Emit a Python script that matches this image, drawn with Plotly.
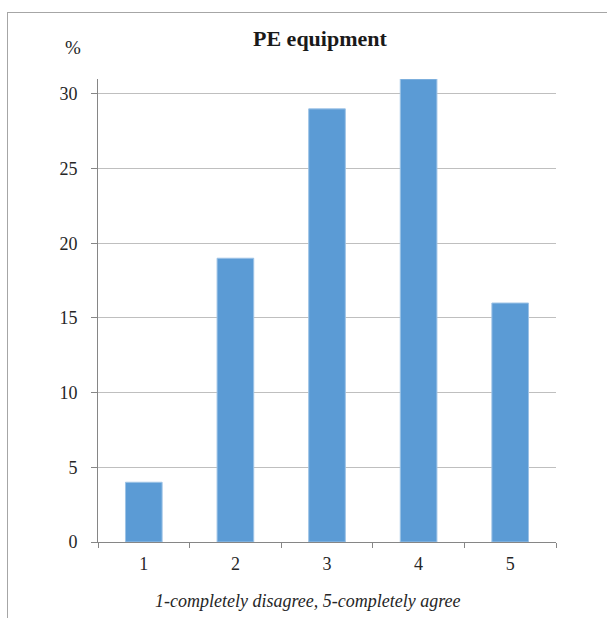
import plotly.graph_objects as go

# Survey answers on the 1-5 agreement scale
categories = ["1", "2", "3", "4", "5"]
percent = [4, 19, 29, 31, 16]
y_ticks = [0, 5, 10, 15, 20, 25, 30]

W, H = 607, 618
L, R, T, B = 98, 51, 79, 76
pw, ph = W - L - R, H - T - B

def px_x(x):
    return (x - L) / pw

def px_y(y):
    return (H - B - y) / ph

serif = "Liberation Serif, Times New Roman, serif"
tick_font = dict(family=serif, size=18, color="#262626")

fig = go.Figure(
    go.Bar(
        x=categories,
        y=percent,
        width=0.4,
        marker=dict(color="#5B9BD5", line=dict(color="#9DC3E6", width=1)),
    )
)

fig.update_layout(
    width=W,
    height=H,
    margin=dict(l=L, r=R, t=T, b=B),
    paper_bgcolor="white",
    plot_bgcolor="white",
    showlegend=False,
    font=dict(family=serif, size=18, color="#262626"),
)

fig.update_xaxes(
    type="category",
    tickson="boundaries",
    ticks="outside",
    ticklen=5,
    tickcolor="#868686",
    showgrid=False,
    showline=True,
    linecolor="#868686",
    linewidth=1,
    tickfont=tick_font,
    ticklabelstandoff=5,
    fixedrange=True,
)

fig.update_yaxes(
    range=[0, 31],
    tickvals=y_ticks,
    ticks="outside",
    ticklen=6,
    tickcolor="#868686",
    showgrid=True,
    gridcolor="#BFBFBF",
    gridwidth=1,
    zeroline=False,
    showline=True,
    linecolor="#868686",
    linewidth=1,
    tickfont=tick_font,
    ticklabelstandoff=10,
    fixedrange=True,
)

# Title, unit label and scale explanation
fig.add_annotation(
    text="<b>PE equipment</b>", xref="paper", yref="paper",
    x=px_x(320), y=px_y(38), showarrow=False,
    font=dict(family=serif, size=22, color="#1a1a1a"),
    xanchor="center", yanchor="middle",
)
fig.add_annotation(
    text="%", xref="paper", yref="paper",
    x=px_x(73), y=px_y(48), showarrow=False,
    font=dict(family=serif, size=19, color="#262626"),
    xanchor="center", yanchor="middle",
)
fig.add_annotation(
    text="<i>1-completely disagree, 5-completely agree</i>", xref="paper", yref="paper",
    x=px_x(308), y=px_y(601), showarrow=False,
    font=dict(family=serif, size=18, color="#262626"),
    xanchor="center", yanchor="middle",
)

# Outer frame: top and left edges
frame = dict(color="#A6A6A6", width=1)
fig.add_shape(type="line", xref="paper", yref="paper",
              x0=px_x(7), y0=px_y(12.5), x1=px_x(607), y1=px_y(12.5), line=frame)
fig.add_shape(type="line", xref="paper", yref="paper",
              x0=px_x(7.5), y0=px_y(12), x1=px_x(7.5), y1=px_y(618), line=frame)

fig.write_html("out.html")
